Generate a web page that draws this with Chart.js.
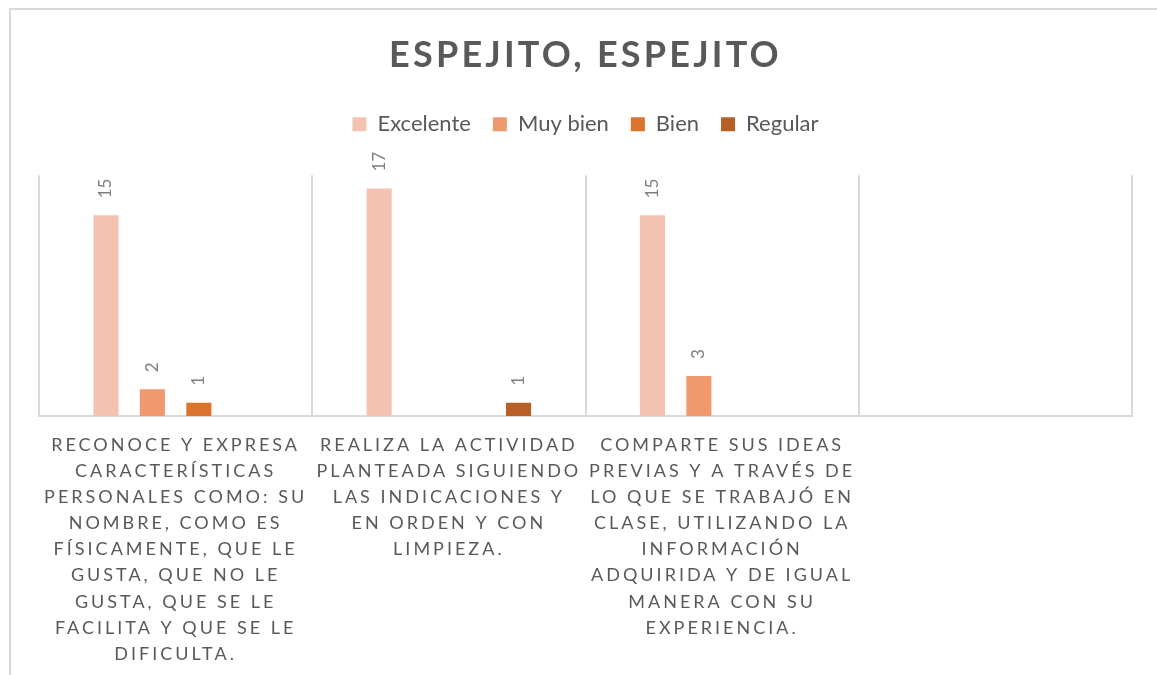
<!DOCTYPE html>
<html>
<head>
<meta charset="utf-8">
<script src="https://cdn.jsdelivr.net/npm/chart.js@4"></script>
<style>
  html, body { margin: 0; padding: 0; background: #fff; overflow: hidden; }
  #frame { position: absolute; left: 9px; top: 8px; width: 1400px; height: 800px; border: 2px solid #d9d9d9; box-sizing: border-box; }
  #box { position: absolute; left: 0; top: 0; width: 1148px; height: 685px; }
</style>
</head>
<body>
<div id="frame"><div id="box"><canvas id="myChart"></canvas></div></div>
<script>
// data
var categories = [
  ['RECONOCE Y EXPRESA', 'CARACTERÍSTICAS', 'PERSONALES COMO: SU', 'NOMBRE, COMO ES', 'FÍSICAMENTE, QUE LE', 'GUSTA, QUE NO LE', 'GUSTA, QUE SE LE', 'FACILITA Y QUE SE LE', 'DIFICULTA.'],
  ['REALIZA LA ACTIVIDAD', 'PLANTEADA SIGUIENDO', 'LAS INDICACIONES Y', 'EN ORDEN Y CON', 'LIMPIEZA.'],
  ['COMPARTE SUS IDEAS', 'PREVIAS Y A TRAVÉS DE', 'LO QUE SE TRABAJÓ EN', 'CLASE, UTILIZANDO LA', 'INFORMACIÓN', 'ADQUIRIDA Y DE IGUAL', 'MANERA CON SU', 'EXPERIENCIA.'],
  ''
];
var excelente = [15, 17, 15, null];
var muyBien = [2, null, 3, null];
var bien = [1, null, null, null];
var regular = [null, 1, null, null];

var grey = '#595959';
var lineGrey = '#d9d9d9';

// extra room under the legend
var legendGap = {
  id: 'legendGap',
  beforeInit: function(chart) {
    var fit = chart.legend.fit;
    chart.legend.fit = function() {
      fit.call(this);
      this.height += 30;
    };
  }
};

// letter spaced title and category labels (legend stays normal)
var spacing = {
  id: 'spacing',
  beforeDraw: function(chart) {
    function wrap(obj, name, sp) {
      if (!obj || obj['_sp_' + name]) return;
      var orig = obj[name];
      obj[name] = function() {
        var c = chart.ctx;
        var old = c.letterSpacing;
        c.letterSpacing = sp;
        orig.apply(this, arguments);
        c.letterSpacing = old;
      };
      obj['_sp_' + name] = true;
    }
    wrap(chart.scales.x, 'drawLabels', '3px');
    wrap(chart.titleBlock, 'draw', '3.2px');
  }
};

// rotated value labels above bars
var barLabels = {
  id: 'barLabels',
  afterDatasetsDraw: function(chart) {
    var c = chart.ctx;
    chart.data.datasets.forEach(function(ds, i) {
      var meta = chart.getDatasetMeta(i);
      meta.data.forEach(function(bar, j) {
        var v = ds.data[j];
        if (v === null || v === undefined) return;
        c.save();
        c.translate(bar.x, bar.y - 17);
        c.rotate(-Math.PI / 2);
        c.font = '17px Lato';
        c.fillStyle = '#7f7f7f';
        c.textAlign = 'left';
        c.textBaseline = 'middle';
        c.fillText(String(v), 0, 0);
        c.restore();
      });
    });
  }
};

const ctx = document.getElementById('myChart').getContext('2d');
const myChart = new Chart(ctx, {
  type: 'bar',
  data: {
    labels: categories,
    datasets: [
      { label: 'Excelente', data: excelente, backgroundColor: '#f4c2b0' },
      { label: 'Muy bien', data: muyBien, backgroundColor: '#f0996f' },
      { label: 'Bien', data: bien, backgroundColor: '#dd742d' },
      { label: 'Regular', data: regular, backgroundColor: '#b75f27' }
    ]
  },
  options: {
    responsive: true,
    maintainAspectRatio: false,
    animation: false,
    categoryPercentage: 0.68,
    barPercentage: 0.54,
    layout: { padding: { left: 28, right: 27, top: 0, bottom: 12 } },
    plugins: {
      title: {
        display: true,
        text: 'ESPEJITO, ESPEJITO',
        color: grey,
        font: { family: 'Lato', size: 36, weight: 'bold' },
        padding: { top: 24, bottom: 14 }
      },
      legend: {
        display: true,
        labels: {
          color: grey,
          font: { family: 'Lato', size: 22 },
          boxWidth: 14,
          boxHeight: 14,
          padding: 22
        }
      },
      tooltip: { enabled: false }
    },
    scales: {
      x: {
        grid: { display: true, offset: true, color: lineGrey, lineWidth: 2, drawTicks: false },
        border: { display: true, color: lineGrey, width: 2 },
        ticks: {
          color: grey,
          font: { family: 'Lato', size: 18, lineHeight: 1.45 },
          padding: 16,
          maxRotation: 0,
          minRotation: 0,
          autoSkip: false
        }
      },
      y: {
        display: false,
        min: 0,
        max: 18
      }
    }
  },
  plugins: [legendGap, spacing, barLabels]
});
</script>
</body>
</html>
